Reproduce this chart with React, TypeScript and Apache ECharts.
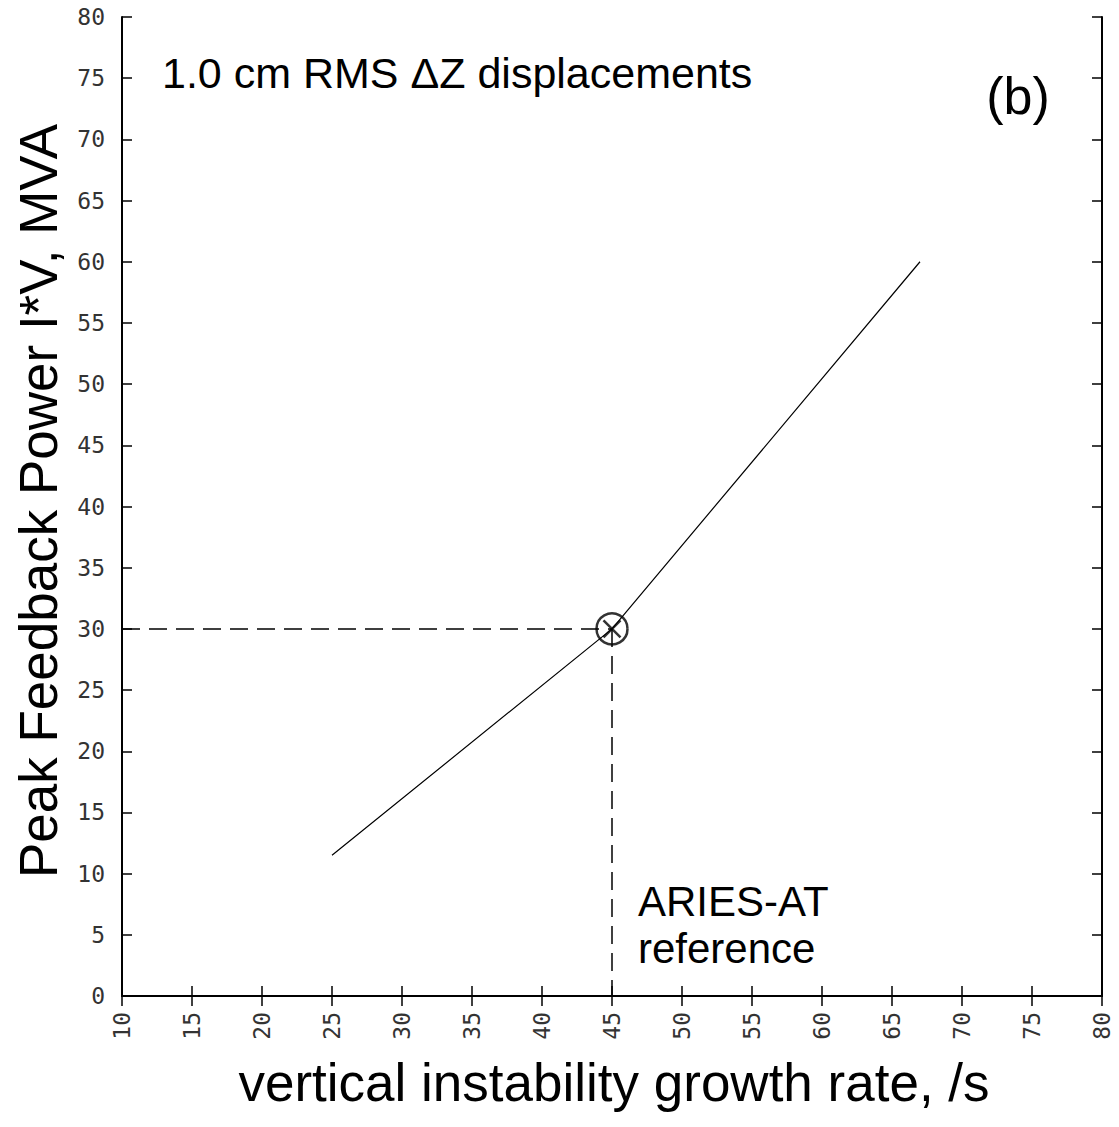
import React, { useEffect, useRef } from "react";
import * as echarts from "echarts";

const xTicks = { min: 10, max: 80, interval: 5 };
const yTicks = { min: 0, max: 80, interval: 5 };
const curveX = [25, 45, 67];
const curveY = [11.5, 30, 60];
const refPoint = [45, 30];
const hDash = [[10, 30], [45, 30]];
const vDash = [[45, 30], [45, 0]];
const xTitle = "vertical instability growth rate, /s";
const yTitle = "Peak Feedback Power I*V, MVA";
const caseText = "1.0 cm RMS ΔZ displacements";
const panelText = "(b)";
const refLabel1 = "ARIES-AT";
const refLabel2 = "reference";

const sans = "'Liberation Sans', Arial, Helvetica, sans-serif";
const mono = "'DejaVu Sans Mono', 'Liberation Mono', monospace";

export default function App() {
  const ref = useRef<HTMLDivElement>(null);
  useEffect(() => {
    if (!ref.current) return;
    const chart = echarts.init(ref.current, null, { renderer: "svg" });
    const axisCommon = {
      type: "value" as const,
      splitLine: { show: false },
      axisLine: { show: true, lineStyle: { color: "#000", width: 2 } },
      axisTick: { show: true, inside: true, length: 10, lineStyle: { color: "#000", width: 1.5 } },
    };
    const labelStyle = { fontFamily: mono, fontSize: 23, color: "#333" };
    chart.setOption({
      animation: false,
      backgroundColor: "#fff",
      grid: { left: 122, right: 17, top: 17, bottom: 131, containLabel: false },
      xAxis: [
        {
          ...axisCommon,
          ...xTicks,
          position: "bottom",
          axisLabel: { ...labelStyle, rotate: 90, margin: 16, showMinLabel: true, showMaxLabel: true },
        },
        { ...axisCommon, ...xTicks, position: "top", axisLabel: { show: false } },
      ],
      yAxis: [
        {
          ...axisCommon,
          ...yTicks,
          position: "left",
          axisLabel: { ...labelStyle, margin: 17, showMinLabel: true, showMaxLabel: true },
        },
        { ...axisCommon, ...yTicks, position: "right", axisLabel: { show: false } },
      ],
      series: [
        {
          type: "line",
          data: curveX.map((x, i) => [x, curveY[i]]),
          showSymbol: false,
          symbol: "none",
          lineStyle: { color: "#000", width: 1.2 },
          z: 3,
        },
        {
          type: "line",
          data: hDash,
          symbol: "none",
          lineStyle: { color: "#000", width: 1.5, type: [18, 9] },
          z: 2,
        },
        {
          type: "line",
          data: vDash,
          symbol: "none",
          lineStyle: { color: "#000", width: 1.5, type: [18, 9] },
          z: 2,
        },
        {
          type: "scatter",
          data: [refPoint],
          symbol: "circle",
          symbolSize: 31,
          itemStyle: { color: "rgba(0,0,0,0)", borderColor: "#000", borderWidth: 2.5 },
          z: 4,
        },
        {
          type: "scatter",
          data: [refPoint],
          symbol: "path://M0,0L10,10M10,0L0,10",
          symbolSize: 17,
          itemStyle: { color: "rgba(0,0,0,0)", borderColor: "#000", borderWidth: 2.5 },
          z: 5,
        },
      ],
      graphic: [
        {
          type: "text",
          x: 162,
          y: 73,
          style: { text: caseText, font: `43px ${sans}`, fill: "#000", textAlign: "left", textVerticalAlign: "middle" },
        },
        {
          type: "text",
          x: 1018,
          y: 96,
          style: { text: panelText, font: `52px ${sans}`, fill: "#000", textAlign: "center", textVerticalAlign: "middle" },
        },
        {
          type: "text",
          x: 638,
          y: 901,
          style: { text: refLabel1, font: `42px ${sans}`, fill: "#000", textAlign: "left", textVerticalAlign: "middle" },
        },
        {
          type: "text",
          x: 638,
          y: 948,
          style: { text: refLabel2, font: `42px ${sans}`, fill: "#000", textAlign: "left", textVerticalAlign: "middle" },
        },
        {
          type: "text",
          x: 614,
          y: 1082,
          style: { text: xTitle, font: `53px ${sans}`, fill: "#000", textAlign: "center", textVerticalAlign: "middle" },
        },
        {
          type: "text",
          x: 38,
          y: 501,
          rotation: Math.PI / 2,
          style: { text: yTitle, font: `53px ${sans}`, fill: "#000", textAlign: "center", textVerticalAlign: "middle" },
        },
      ],
    });
    return () => chart.dispose();
  }, []);
  return (
    <div
      ref={ref}
      style={{ position: "fixed", left: 0, top: 0, width: 1119, height: 1127, background: "#fff" }}
    />
  );
}
